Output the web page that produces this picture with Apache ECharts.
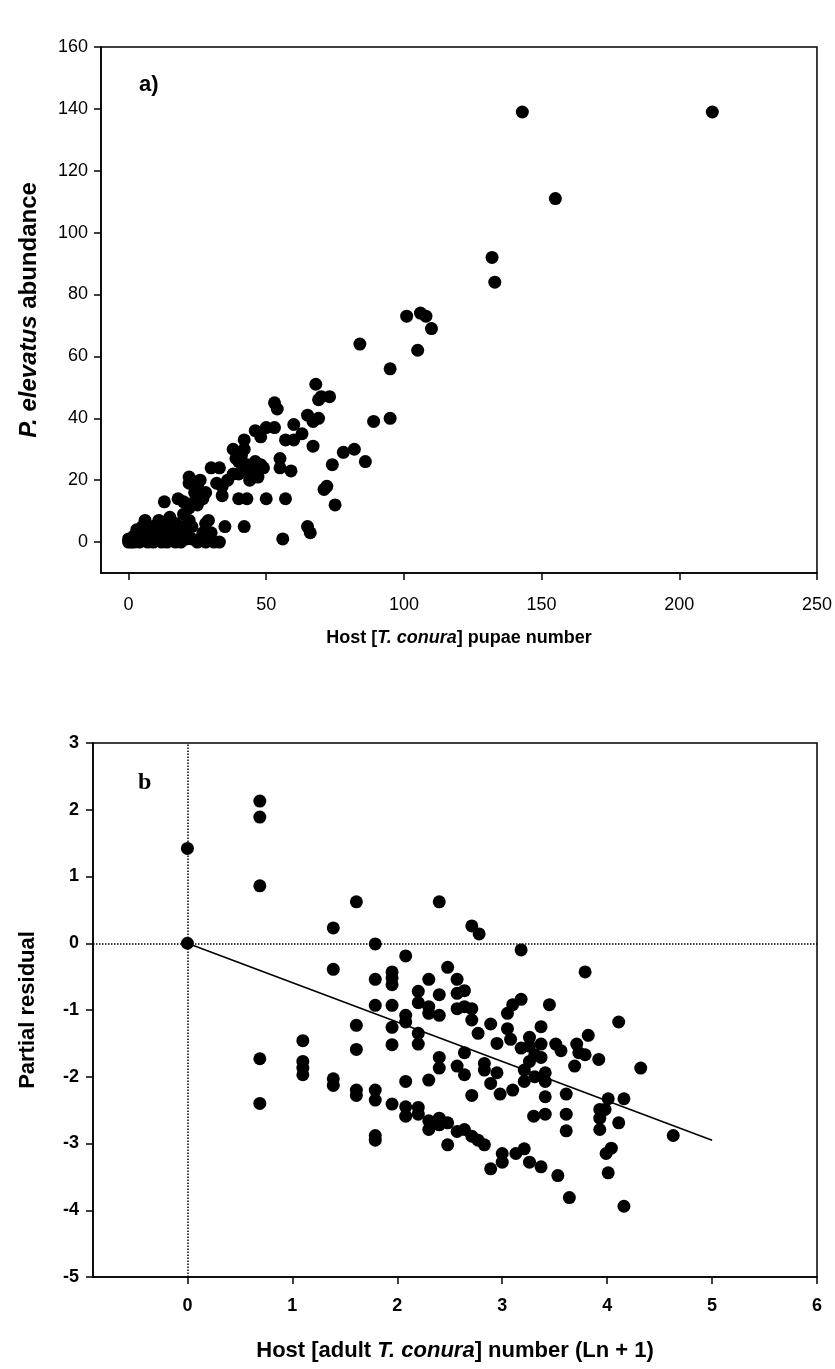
<!DOCTYPE html>
<html>
<head>
<meta charset="utf-8">
<script src="https://cdn.jsdelivr.net/npm/echarts@6/dist/echarts.min.js"></script>
<style>
html,body{margin:0;padding:0;background:#fff;}
#chart{width:835px;height:1369px;}
</style>
</head>
<body>
<div id="chart"></div>
<script>
// ---------- Panel a data: host pupae number vs P. elevatus abundance ----------
var aX = [212,143,155,132,133,101,106,108,110,105,84,95,95,89,68,70,73,69,65,67,69,53,54,60,63,60,57,67,53,50,46,48,42,42,38,78,82,86,74,71,72,75,59,55,55,57,50,43,40,42,56,65,66,35,33,29,28,
  40,43,46,45,49,47,44,40,41,44,42,48,38,36,39,
  0,1,2,4,7,9,12,14,17,19,25,28,31,
  3,4,5,9,13,17,21,22,6,11,15,20,22,24,13,18,20,22,22,25,26,27,25,24,28,30,33,32,34,34,30,2,8,10,15,18,7,11,16,19,20,23,5,3,12,14,26,27,15,12,23,21,0,1,6,10,16,21];
var aY = [139,139,111,92,84,73,74,73,69,62,64,56,40,39,51,47,47,46,41,39,40,45,43,38,35,33,33,31,37,37,36,34,33,30,30,29,30,26,25,17,18,12,23,27,24,14,14,14,14,5,1,5,3,5,0,7,6,
  26,25,26,23,24,21,20,22,28,23,24,25,22,20,27,
  0,0,0,0,0,0,0,0,0,0,0,0,0,
  1,3,5,5,6,6,5,7,7,7,8,9,11,13,13,14,13,21,19,18,20,14,12,16,16,24,24,19,18,15,3,2,3,4,3,2,5,2,4,5,3,5,2,4,4,5,1,3,1,1,1,1,1,1,2,1,2,3];
var aXTicks = [0,50,100,150,200,250];
var aYTicks = [0,20,40,60,80,100,120,140,160];

// ---------- Panel b data: host adult number (Ln+1) vs partial residual ----------
var bX = [0,0,0.69,0.69,0.69,0.69,0.69,1.1,1.1,1.1,1.1,1.39,1.39,1.39,1.39,1.61,1.61,1.61,1.61,1.61,
  1.79,1.79,1.79,1.79,1.79,1.79,1.79,1.95,1.95,1.95,1.95,1.95,1.95,1.95,2.08,2.08,2.08,2.08,2.08,2.08,
  2.2,2.2,2.2,2.2,2.2,2.2,2.3,2.3,2.3,2.3,2.3,2.3,2.4,2.4,2.4,2.4,2.4,2.4,2.4,2.48,2.48,2.48,
  2.57,2.57,2.57,2.57,2.57,2.64,2.64,2.64,2.64,2.64,2.71,2.78,2.71,2.71,2.71,2.71,2.77,2.77,2.83,2.83,2.83,
  2.89,2.89,2.89,2.95,2.95,2.98,3.0,3.0,3.05,3.05,3.08,3.1,3.1,3.13,3.18,3.18,3.18,3.21,3.21,3.21,
  3.26,3.26,3.26,3.26,3.31,3.31,3.3,3.37,3.37,3.37,3.37,3.41,3.41,3.41,3.41,3.45,3.51,3.53,3.56,
  3.61,3.61,3.61,3.64,3.69,3.71,3.73,3.79,3.82,3.79,3.92,3.93,3.93,3.93,3.98,4.01,3.99,4.04,4.01,
  4.11,4.11,4.16,4.16,4.32,4.63];
var bY = [1.42,0,2.13,1.89,0.86,-1.73,-2.4,-1.46,-1.77,-1.87,-1.97,0.23,-0.39,-2.03,-2.13,0.62,-1.23,-1.59,-2.2,-2.28,
  -0.01,-0.54,-0.93,-2.2,-2.35,-2.88,-2.95,-0.43,-0.52,-0.62,-0.93,-1.26,-1.52,-2.41,-0.19,-1.08,-1.18,-2.07,-2.45,-2.59,
  -0.72,-0.89,-1.35,-1.51,-2.46,-2.56,-0.54,-0.95,-1.05,-2.05,-2.66,-2.79,0.62,-0.77,-1.08,-1.71,-1.87,-2.62,-2.72,-0.36,-2.69,-3.02,
  -0.54,-0.75,-0.98,-1.84,-2.82,-0.71,-0.95,-1.64,-1.97,-2.79,0.26,0.14,-0.98,-1.15,-2.28,-2.89,-1.35,-2.95,-1.8,-1.9,-3.02,
  -1.21,-2.1,-3.38,-1.5,-1.94,-2.26,-3.15,-3.28,-1.28,-1.05,-1.44,-0.92,-2.2,-3.15,-0.1,-0.84,-1.57,-1.9,-2.07,-3.08,
  -1.41,-1.54,-1.77,-3.28,-1.67,-2.0,-2.59,-1.25,-1.51,-1.71,-3.35,-2.3,-2.56,-1.94,-2.07,-0.92,-1.51,-3.48,-1.61,
  -2.26,-2.56,-2.81,-3.81,-1.84,-1.51,-1.64,-0.43,-1.38,-1.67,-1.74,-2.49,-2.62,-2.79,-2.49,-2.33,-3.15,-3.07,-3.44,
  -1.18,-2.69,-2.33,-3.94,-1.87,-2.88];
var fitX = [0,5];
var fitY = [0,-2.95];
var bXTicks = [0,1,2,3,4,5,6];

function pairs(xs, ys){ var o=[]; for(var i=0;i<xs.length;i++){ o.push([xs[i], ys[i]]); } return o; }

var chart = echarts.init(document.getElementById('chart'), null, {renderer:'canvas'});
var axisLineStyle = {color:'#000', width:1.5};
var sans = "'Liberation Sans', Arial, sans-serif";
var narrow = "'Liberation Sans Narrow', 'Liberation Sans', Arial, sans-serif";

var option = {
  animation:false,
  backgroundColor:'#fff',
  grid:[
    {left:101, top:47, width:716, height:526, show:true, borderColor:'#000', borderWidth:1.5, backgroundColor:'transparent'},
    {left:93, top:743, width:724, height:534, show:true, borderColor:'#000', borderWidth:1.5, backgroundColor:'transparent'}
  ],
  xAxis:[
    {type:'value', gridIndex:0, min:-10, max:250,
     axisLine:{show:true, onZero:false, lineStyle:axisLineStyle},
     axisTick:{show:true, length:7, inside:false, customValues:aXTicks, lineStyle:axisLineStyle},
     axisLabel:{customValues:aXTicks, margin:23, color:'#000', fontSize:18, fontFamily:narrow},
     splitLine:{show:false},
     name:'{b|Host [}{i|T. conura}{b|] pupae number}', nameLocation:'middle', nameGap:56,
     nameTextStyle:{rich:{b:{fontSize:18, fontWeight:'bold', fontFamily:sans, color:'#000'}, i:{fontSize:18, fontWeight:'bold', fontStyle:'italic', fontFamily:sans, color:'#000'}}}
    },
    {type:'value', gridIndex:1, min:-0.9, max:6,
     axisLine:{show:true, onZero:false, lineStyle:axisLineStyle},
     axisTick:{show:true, length:7, inside:false, customValues:bXTicks, lineStyle:axisLineStyle},
     axisLabel:{customValues:bXTicks, margin:20, color:'#000', fontSize:18, fontWeight:'bold', fontFamily:sans},
     splitLine:{show:false},
     name:'{b|Host [adult }{i|T. conura}{b|] number (Ln + 1)}', nameLocation:'middle', nameGap:63,
     nameTextStyle:{rich:{b:{fontSize:22, fontWeight:'bold', fontFamily:sans, color:'#000'}, i:{fontSize:22, fontWeight:'bold', fontStyle:'italic', fontFamily:sans, color:'#000'}}}
    }
  ],
  yAxis:[
    {type:'value', gridIndex:0, min:-10, max:160,
     axisLine:{show:true, onZero:false, lineStyle:axisLineStyle},
     axisTick:{show:true, length:7, inside:false, customValues:aYTicks, lineStyle:axisLineStyle},
     axisLabel:{customValues:aYTicks, margin:13, color:'#000', fontSize:18, fontFamily:narrow},
     splitLine:{show:false},
     name:'{i|P. elevatus}{b| abundance}', nameLocation:'middle', nameGap:60,
     nameTextStyle:{rich:{b:{fontSize:24, fontWeight:'bold', fontFamily:sans, color:'#000'}, i:{fontSize:24, fontWeight:'bold', fontStyle:'italic', fontFamily:sans, color:'#000'}}}
    },
    {type:'value', gridIndex:1, min:-5, max:3, interval:1,
     axisLine:{show:true, onZero:false, lineStyle:axisLineStyle},
     axisTick:{show:true, length:7, inside:false, lineStyle:axisLineStyle},
     axisLabel:{margin:14, color:'#000', fontSize:18, fontWeight:'bold', fontFamily:sans},
     splitLine:{show:false},
     name:'Partial residual', nameLocation:'middle', nameGap:54,
     nameTextStyle:{fontSize:22, fontWeight:'bold', fontFamily:sans, color:'#000'}
    }
  ],
  series:[
    {type:'scatter', xAxisIndex:0, yAxisIndex:0, data:pairs(aX,aY), symbol:'circle', symbolSize:13,
     itemStyle:{color:'#000', opacity:1}, z:3},
    {type:'line', xAxisIndex:1, yAxisIndex:1, data:pairs(fitX,fitY), symbol:'none',
     lineStyle:{color:'#000', width:1.6}, z:2,
     markLine:{silent:true, symbol:'none', label:{show:false},
       lineStyle:{color:'#000', type:'dotted', width:1.5},
       data:[{xAxis:0},{yAxis:0}]}},
    {type:'scatter', xAxisIndex:1, yAxisIndex:1, data:pairs(bX,bY), symbol:'circle', symbolSize:13,
     itemStyle:{color:'#000', opacity:1}, z:3}
  ],
  graphic:[
    {type:'text', left:139, top:74, style:{text:'a)', fontSize:22, fontWeight:'bold', fontFamily:"'Liberation Sans Narrow', 'Liberation Sans', Arial", fill:'#000'}},
    {type:'text', left:138, top:771, style:{text:'b', fontSize:24, fontWeight:'bold', fontFamily:"'Liberation Serif', 'Times New Roman', serif", fill:'#000'}}
  ]
};
chart.setOption(option);
</script>
</body>
</html>
